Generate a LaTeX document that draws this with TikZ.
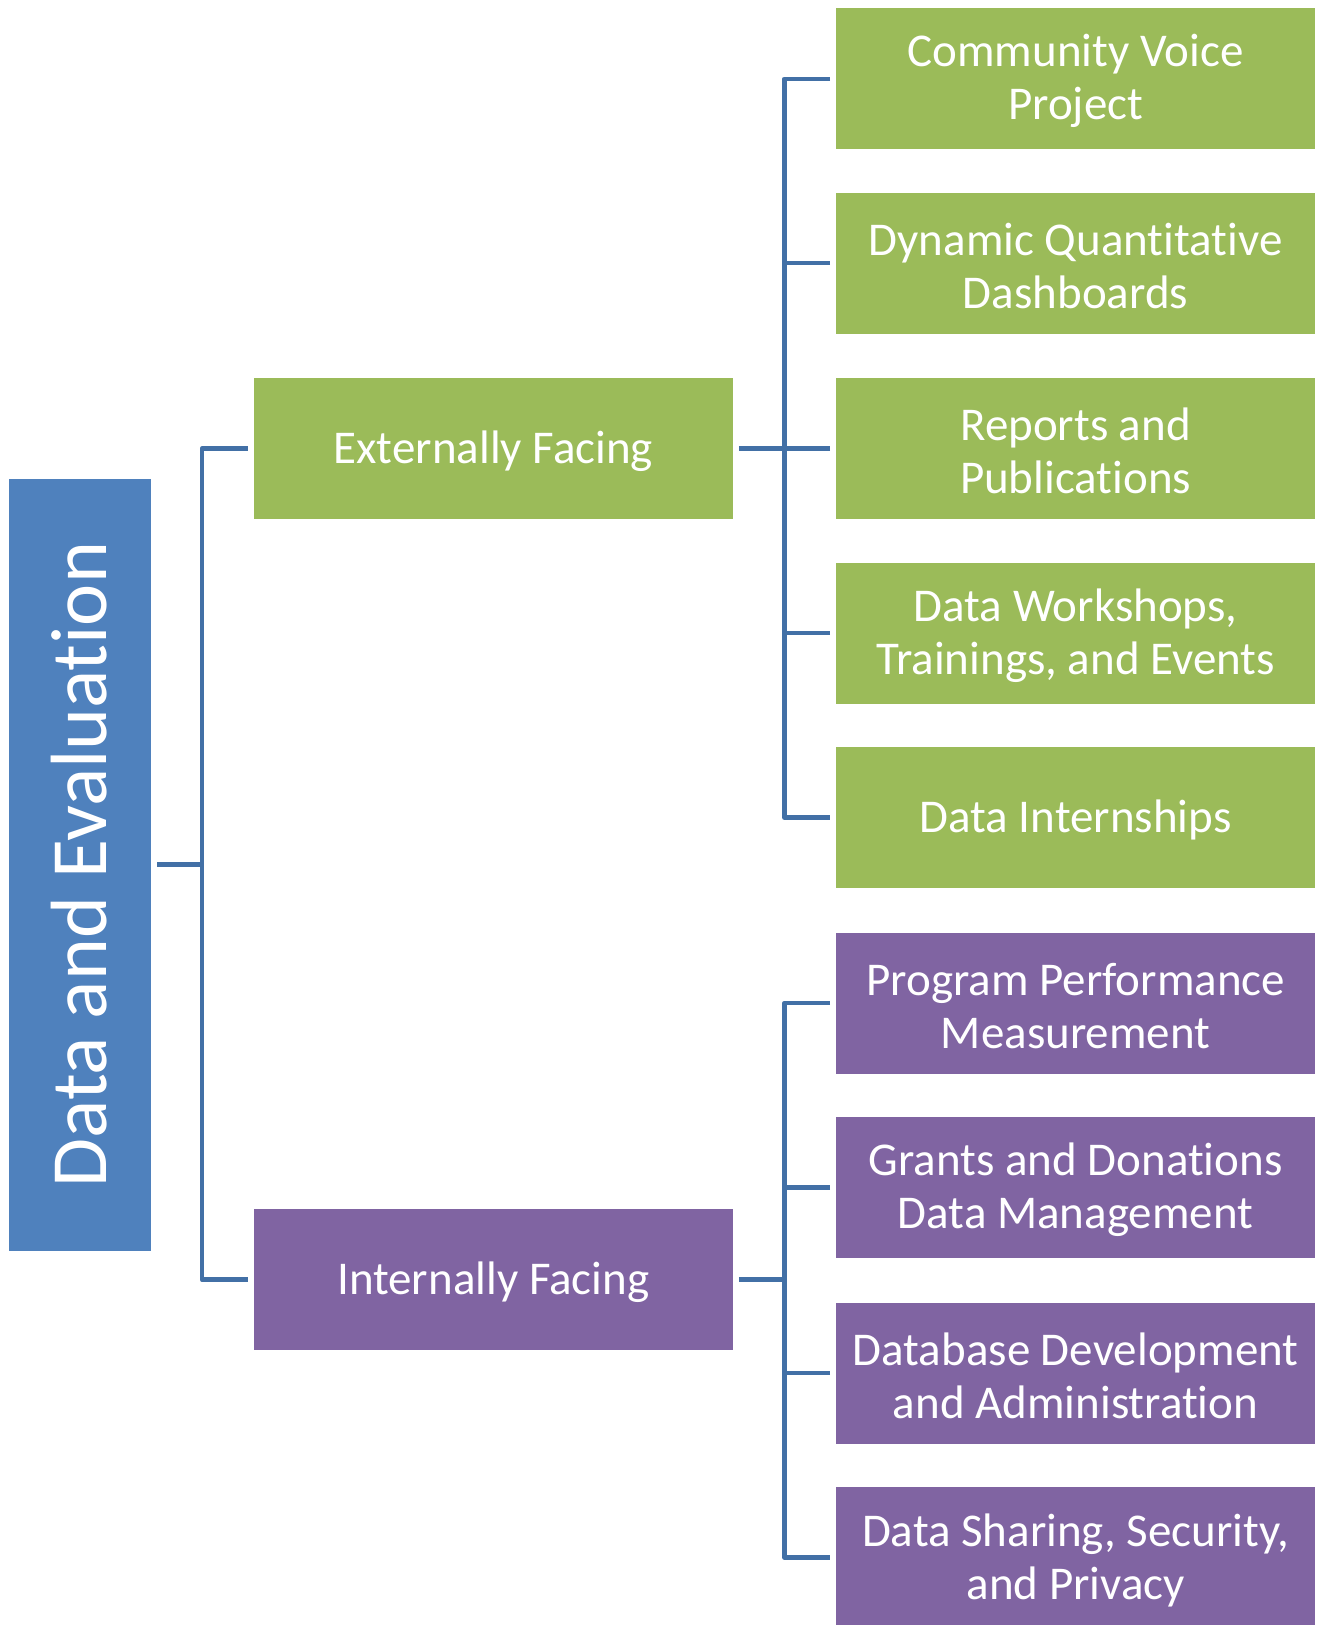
\documentclass[tikz,border=0pt]{standalone}
\usepackage{fontspec}
\setmainfont{Carlito}[Ligatures={NoCommon}]
\usetikzlibrary{calc}
\definecolor{dgreen}{HTML}{9BBB59}
\definecolor{dpurple}{HTML}{8064A2}
\definecolor{dblue}{HTML}{4F81BD}
\definecolor{dline}{HTML}{4270A6}
\newcommand\mybox[4]{\node[#1] (#2) at (#3) {}; \node[boxtxt] (#2t) at ([yshift=-2.5pt]#2.center) {#4};}
\begin{document}
\begin{tikzpicture}[x=1pt,y=-1pt,
  box/.style={rectangle,inner sep=0pt,minimum width=478.8pt,minimum height=141pt},
  boxtxt/.style={inner sep=0pt,text=white,align=center,font=\fontsize{47}{53}\selectfont},
  gbox/.style={box,fill=dgreen},
  pbox/.style={box,fill=dpurple},
  conn/.style={draw=dline,line width=4.5pt,line join=round}]
\useasboundingbox (0,0) rectangle (1317,1625);
\node[rectangle,fill=dblue,inner sep=0pt,minimum width=142pt,minimum height=772pt] (root) at (80.3,864.7) {};
\node[rotate=90,text=white,inner sep=0pt,font=\fontsize{79.8}{90}\selectfont] (roottxt) at ([xshift=-1pt]root.center) {Data and Evaluation};
\mybox{gbox}{ext}{493.3,448.7}{Externally Facing}
\mybox{pbox}{int}{493.3,1279.7}{Internally Facing}
\mybox{gbox}{g1}{1075.6,78.8}{Community Voice\\Project}
\mybox{gbox}{g2}{1075.6,263.2}{Dynamic Quantitative\\Dashboards}
\mybox{gbox}{g3}{1075.6,448.7}{Reports and\\Publications}
\mybox{gbox}{g4}{1075.6,633.2}{Data Workshops,\\Trainings, and Events}
\mybox{gbox}{g5}{1075.6,817.6}{Data Internships}
\mybox{pbox}{p1}{1075.6,1003.1}{Program Performance\\Measurement}
\mybox{pbox}{p2}{1075.6,1187.5}{Grants and Donations\\Data Management}
\mybox{pbox}{p3}{1075.6,1373.0}{Database Development\\and Administration}
\mybox{pbox}{p4}{1075.6,1557.5}{Data Sharing, Security,\\and Privacy}
\coordinate (b1) at (202,864);
\coordinate (b2) at (784.4,864);
% left bracket
\draw[conn] ([xshift=5.5pt]root.east) -- (root.east -| b1);
\draw[conn] ([xshift=-6pt]ext.west) -| (b1) |- ([xshift=-6pt]int.west);
% green bracket
\draw[conn] ([xshift=6pt]ext.east) -- (ext.east -| b2);
\draw[conn] ([xshift=-6pt]g1.west) -| (b2 |- g5.west) -- ([xshift=-6pt]g5.west);
\foreach \n in {g2,g3,g4} \draw[conn] ([xshift=-6pt]\n.west) -- (\n.west -| b2);
% purple bracket
\draw[conn] ([xshift=6pt]int.east) -- (int.east -| b2);
\draw[conn] ([xshift=-6pt]p1.west) -| (b2 |- p4.west) -- ([xshift=-6pt]p4.west);
\foreach \n in {p2,p3} \draw[conn] ([xshift=-6pt]\n.west) -- (\n.west -| b2);
\end{tikzpicture}
\end{document}
